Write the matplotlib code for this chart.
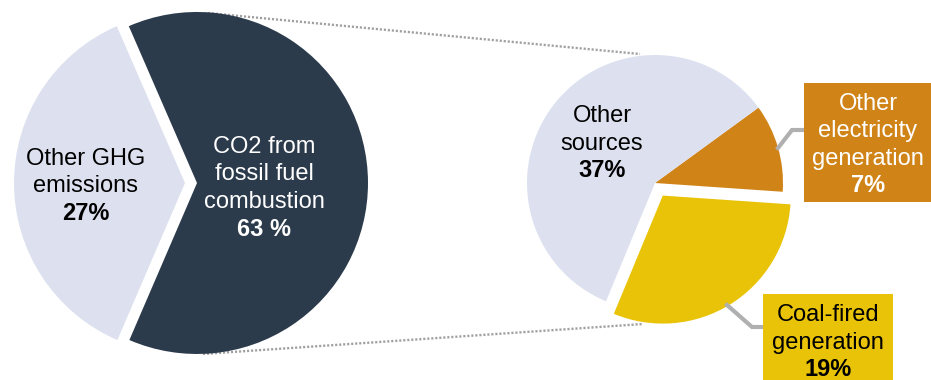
import numpy as np
import matplotlib
matplotlib.use("Agg")
import matplotlib.pyplot as plt
from matplotlib.patches import Rectangle

plt.rcParams['font.family'] = ['Liberation Sans', 'DejaVu Sans']

# Colours
LIGHT = '#dde1ef'
NAVY = '#2c3b4c'
ORANGE = '#d08418'
YELLOW = '#e9c307'
GREY = '#b0b0b0'
DOTS = '#a0a0a0'

# Total GHG split (left pie)
total_names = [['Other GHG', 'emissions'], ['CO2 from', 'fossil fuel', 'combustion']]
total_pct_text = ['27%', '63 %']
total_values = [37, 63]

# CO2 from fossil fuel split (right pie): coal, other electricity, other sources
co2_names = [['Coal-fired', 'generation'], ['Other', 'electricity', 'generation'], ['Other', 'sources']]
co2_pct_text = ['19%', '7%', '37%']
co2_values = [19, 7, 37]

W, H = 931, 380
fig = plt.figure(figsize=(W / 100, H / 100), dpi=100)
ax = fig.add_axes([0, 0, 1, 1])

FS = 17
LINE = 27.5


def y(px):
    # pixel row (from top) -> data y
    return H - px


def label_block(x, base_top, lines, pct, color):
    for i, s in enumerate(lines):
        ax.text(x, y(base_top + i * LINE), s, ha='center', va='baseline',
                fontsize=FS, color=color)
    ax.text(x, y(base_top + len(lines) * LINE), pct, ha='center', va='baseline',
            fontsize=FS, color=color, fontweight='bold')


# dotted connectors between the two pies (drawn underneath)
ax.plot([208, 640], [y(13), y(54)], color=DOTS, lw=1.7, ls=(0, (0.9, 0.8)), zorder=0)
ax.plot([203, 643], [y(354), y(324)], color=DOTS, lw=1.7, ls=(0, (0.9, 0.8)), zorder=0)

# left pie (explode is in data units here, i.e. pixels)
ax.pie(total_values, colors=[LIGHT, NAVY], startangle=113.5, counterclock=True,
       center=(185, y(183)), radius=171, explode=[0, 12],
       wedgeprops=dict(linewidth=0), frame=True)

# right pie
ax.pie(co2_values, colors=[YELLOW, ORANGE, LIGHT], startangle=-112.5, counterclock=True,
       center=(655, y(183)), radius=128, explode=[14.8, 0, 0],
       wedgeprops=dict(linewidth=0), frame=True)

# leader lines to the callout boxes
ax.plot([804, 792, 778], [y(130), y(130), y(148)], color=GREY, lw=3,
        solid_joinstyle='miter', zorder=1)
ax.plot([727, 752, 763], [y(305), y(327), y(327)], color=GREY, lw=3,
        solid_joinstyle='miter', zorder=1)

# callout boxes
ax.add_patch(Rectangle((804, y(202)), 127, 119, facecolor=ORANGE, edgecolor='none', zorder=2))
ax.add_patch(Rectangle((763, y(380)), 130, 86, facecolor=YELLOW, edgecolor='none', zorder=2))

# labels
label_block(86, 165, total_names[0], total_pct_text[0], 'black')
label_block(264, 153, total_names[1], total_pct_text[1], 'white')
label_block(602, 122, co2_names[2], co2_pct_text[2], 'black')
label_block(868, 110, co2_names[1], co2_pct_text[1], 'white')
label_block(828, 321, co2_names[0], co2_pct_text[0], 'black')

for t in ax.texts:
    t.set_zorder(3)

ax.set_xlim(0, W)
ax.set_ylim(0, H)
ax.set_aspect('auto')
ax.axis('off')

fig.savefig('out.png', dpi=100, facecolor='white')
